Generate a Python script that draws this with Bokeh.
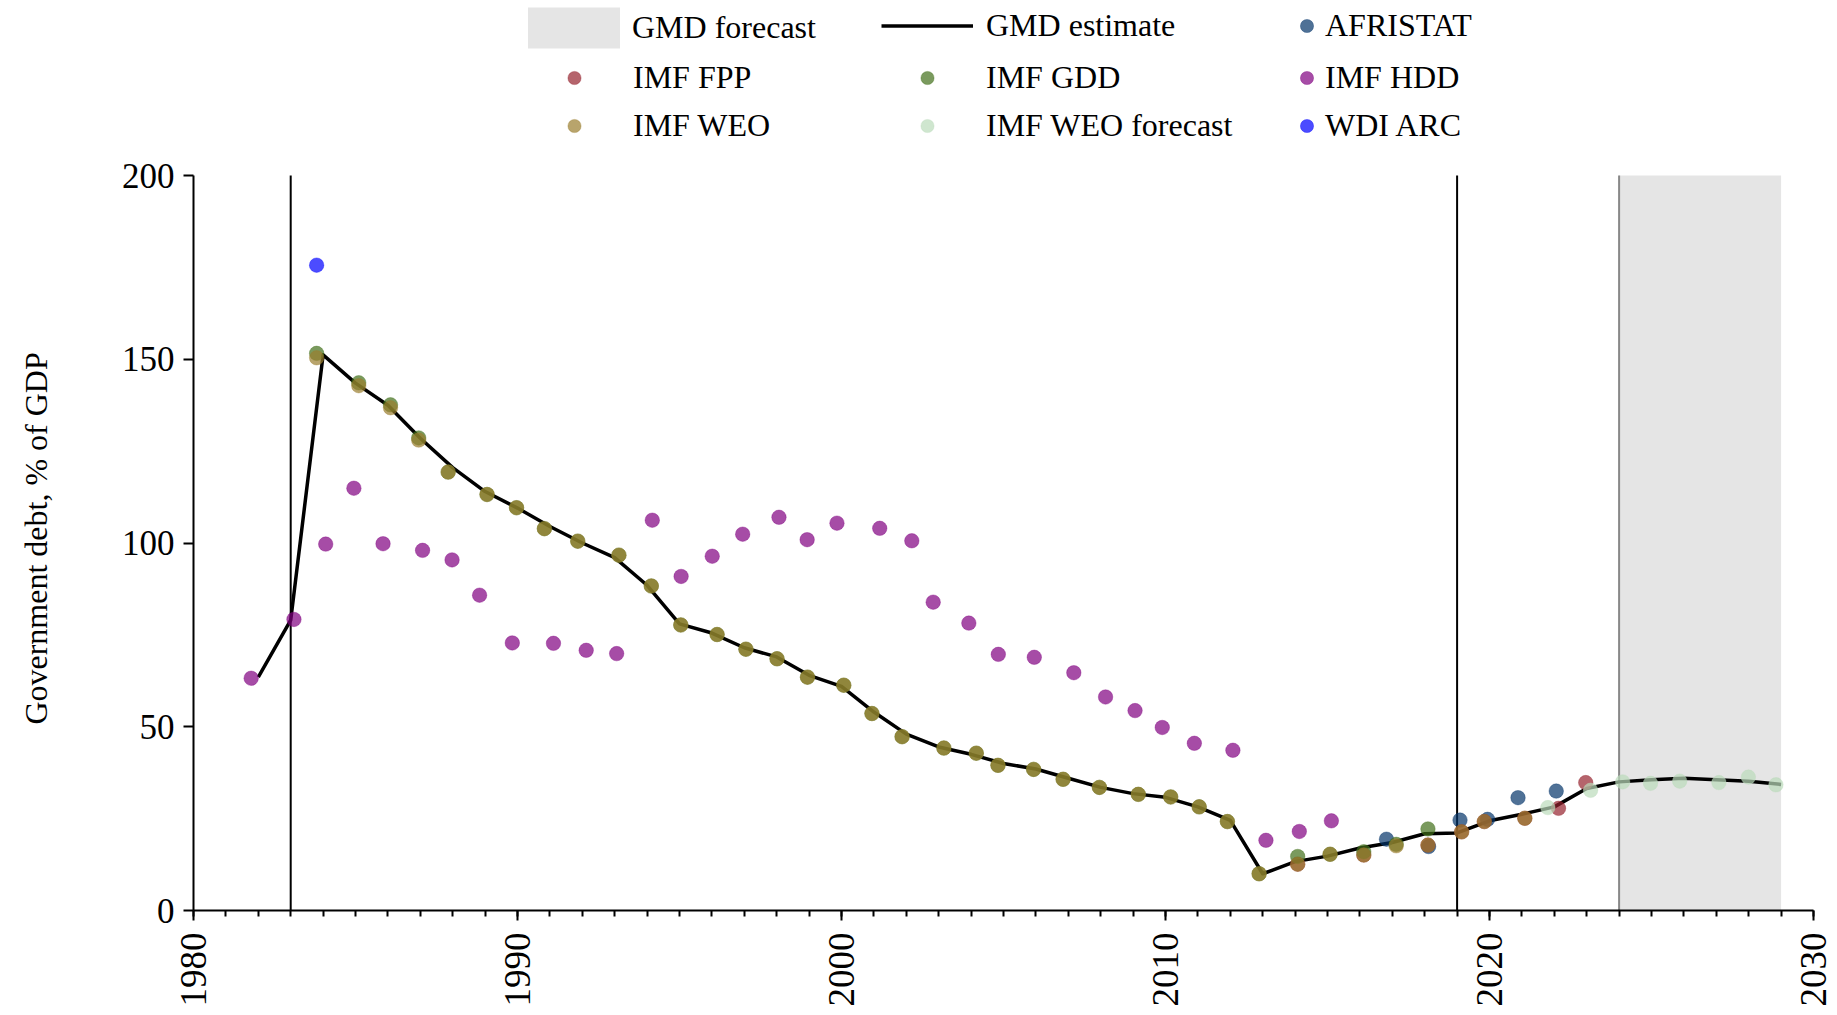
import math
from bokeh.plotting import figure
from bokeh.layouts import row
from bokeh.models import (Range1d, FixedTicker, Legend, LegendItem, ColumnDataSource, Label)
from bokeh.embed import file_html
from bokeh.resources import INLINE

# ---------------- data ----------------
GMD_YEARS = list(range(1982, 2030))
GMD_EST = [63.5, 79, 151.2, 143.5, 137.5, 128.5, 120.5, 114, 109.5, 104.5, 100, 96,
           88.5, 78, 75.5, 71.5, 69, 64, 61, 54, 48, 44.5, 42.5, 40, 38.5, 36, 33.5,
           31.8, 30.8, 28.2, 24.5, 10, 13.3, 14.8, 17, 18.5, 20.9, 21.1, 24.4, 26.2,
           28.2, 33.2, 35, 35.6, 36, 35.6, 35.2, 34.3]

FORECAST_START = 2024
FORECAST_END = 2029
EVENT_YEARS = [1983, 2019]

AFRISTAT_X = [2016.82, 2018.12, 2019.09, 2019.94, 2020.88, 2022.06]
AFRISTAT_Y = [19.4, 17.4, 24.6, 24.8, 30.7, 32.5]

FPP_X = [2014.08, 2016.12, 2018.10, 2019.14, 2019.84, 2021.09, 2022.13, 2022.97]
FPP_Y = [12.6, 15.1, 17.8, 21.4, 24.2, 25.1, 27.8, 34.8]

GDD_X = [1983.80, 1985.10, 1986.08, 1986.95, 1987.86, 1989.06, 1989.97, 1990.83,
         1991.86, 1993.13, 1994.13, 1995.04, 1996.16, 1997.05, 1998.01, 1998.95,
         2000.07, 2000.94, 2001.87, 2003.16, 2004.16, 2004.83, 2005.93, 2006.84,
         2007.96, 2009.16, 2010.16, 2011.04, 2011.91, 2012.89, 2014.08, 2015.08,
         2016.12, 2017.12, 2018.10]
GDD_Y = [151.6, 143.6, 137.6, 128.6, 119.3, 113.2, 109.6, 103.9, 100.5, 96.7, 88.3,
         77.7, 75.1, 71.1, 68.5, 63.5, 61.3, 53.6, 47.3, 44.2, 42.8, 39.5, 38.4, 35.7,
         33.5, 31.6, 30.9, 28.2, 24.2, 10.0, 14.7, 15.3, 16.0, 18.0, 22.2]

HDD_X = [1981.78, 1983.10, 1984.08, 1984.95, 1985.85, 1987.07, 1987.98, 1988.83,
         1989.84, 1991.11, 1992.12, 1993.06, 1994.16, 1995.05, 1996.01, 1996.95,
         1998.07, 1998.94, 1999.86, 2001.18, 2002.17, 2002.83, 2003.93, 2004.84,
         2005.95, 2007.17, 2008.15, 2009.06, 2009.90, 2010.89, 2012.08, 2013.10,
         2014.13, 2015.12]
HDD_Y = [63.2, 79.2, 99.7, 114.9, 99.8, 98.0, 95.4, 85.8, 72.8, 72.7, 70.8, 69.9,
         106.2, 90.9, 96.4, 102.4, 107.0, 100.9, 105.4, 104.0, 100.6, 83.9, 78.2,
         69.7, 68.9, 64.7, 58.1, 54.4, 49.8, 45.5, 43.6, 19.1, 21.5, 24.4]

WEO_X = [1983.80, 1985.10, 1986.08, 1986.95, 1987.86, 1989.06, 1989.97, 1990.83,
         1991.86, 1993.13, 1994.13, 1995.04, 1996.16, 1997.05, 1998.01, 1998.95,
         2000.07, 2000.94, 2001.87, 2003.16, 2004.16, 2004.83, 2005.93, 2006.84,
         2007.96, 2009.16, 2010.16, 2011.04, 2011.91, 2012.89, 2014.08, 2015.08,
         2016.12, 2017.12, 2018.10, 2019.14, 2019.84, 2021.09]
WEO_Y = [150.4, 142.8, 136.8, 128.0, 119.3, 113.2, 109.6, 103.9, 100.5, 96.7, 88.3,
         77.7, 75.1, 71.1, 68.5, 63.5, 61.3, 53.6, 47.3, 44.2, 42.8, 39.5, 38.4, 35.7,
         33.5, 31.6, 30.9, 28.2, 24.2, 10.0, 12.6, 15.3, 15.1, 17.6, 17.8, 21.4, 24.2,
         25.1]

WEOF_X = [2021.80, 2023.12, 2024.11, 2024.97, 2025.87, 2027.08, 2027.99, 2028.84]
WEOF_Y = [28.0, 32.7, 35.0, 34.6, 35.2, 34.8, 36.3, 34.2]

WDI_X = [1983.80]
WDI_Y = [175.6]

X_TICKS = [1980, 1990, 2000, 2010, 2020, 2030]
Y_TICKS = [0, 50, 100, 150, 200]
Y_LABEL = "Government debt, % of GDP"

SERIES = [
    ("AFRISTAT", AFRISTAT_X, AFRISTAT_Y, "#04346a"),
    ("IMF FPP", FPP_X, FPP_Y, "#95222d"),
    ("IMF GDD", GDD_X, GDD_Y, "#416f19"),
    ("IMF HDD", HDD_X, HDD_Y, "#800080"),
    ("IMF WEO", WEO_X, WEO_Y, "#9a7d2d"),
    ("IMF WEO forecast", WEOF_X, WEOF_Y, "#badbba"),
    ("WDI ARC", WDI_X, WDI_Y, "#0000ff"),
]

FONT = "Liberation Serif"

# ---------------- layout ----------------
W, H = 1837, 1015
LABEL_W = 60                # narrow strip on the left that carries the y-axis title
FRAME_LEFT = 193            # page x of the y axis
FRAME_W = 1620
FRAME_BOTTOM = 910          # page y of the x axis
AXIS_PX = 735               # pixels spanned by 0..200
frame_h = FRAME_BOTTOM      # frame starts at canvas top (legend lives inside the frame)
y_top = Y_TICKS[-1] * frame_h / AXIS_PX
LABEL_CY = 600              # page y of the y-axis title centre

# left strip with the y-axis title (its own pixel coordinate system, y up)
lab = figure(width=LABEL_W, height=H, output_backend="svg", toolbar_location=None,
             x_axis_type=None, y_axis_type=None, min_border=0, title=None,
             x_range=Range1d(0, LABEL_W), y_range=Range1d(0, H))
lab.outline_line_color = None
lab.grid.visible = False
lab.add_layout(Label(x=35, y=H - LABEL_CY,
                     text=Y_LABEL, angle=math.pi / 2, text_align="center", text_baseline="middle",
                     text_font=FONT, text_font_size="32px", text_color="black"))

pw = W - LABEL_W
p = figure(width=pw, height=H, output_backend="svg", toolbar_location=None,
           x_range=Range1d(X_TICKS[0], X_TICKS[-1]), y_range=Range1d(Y_TICKS[0], y_top),
           min_border_left=FRAME_LEFT - LABEL_W, min_border_right=W - FRAME_LEFT - FRAME_W,
           min_border_top=0, min_border_bottom=H - FRAME_BOTTOM)
p.outline_line_color = None
p.xgrid.visible = False
p.ygrid.visible = False
p.background_fill_color = "white"
p.border_fill_color = "white"

# forecast shading
shade = p.quad(left=[FORECAST_START], right=[FORECAST_END], bottom=[Y_TICKS[0]], top=[Y_TICKS[-1]],
               fill_color="#e5e5e5", line_color=None)
p.segment(x0=[FORECAST_START], x1=[FORECAST_START], y0=[Y_TICKS[0]], y1=[Y_TICKS[-1]],
          line_color="#888888", line_width=2)

# event lines
p.segment(x0=EVENT_YEARS, x1=EVENT_YEARS, y0=[Y_TICKS[0]] * len(EVENT_YEARS),
          y1=[Y_TICKS[-1]] * len(EVENT_YEARS), line_color="black", line_width=2)

gmd = p.line(GMD_YEARS, GMD_EST, line_color="black", line_width=3.5, line_join="round")

rends = {}
for name, xs, ys, col in SERIES:
    src = ColumnDataSource(dict(x=xs, y=ys))
    rends[name] = p.scatter("x", "y", source=src, size=14.5, fill_color=col, line_color=col,
                            fill_alpha=0.7, line_alpha=0.7, line_width=0.5)

# axes
xa = p.xaxis[0]
xa.ticker = FixedTicker(ticks=X_TICKS, minor_ticks=list(range(X_TICKS[0], X_TICKS[-1] + 1)))
xa.major_label_orientation = math.pi / 2
ya = p.yaxis[0]
ya.ticker = FixedTicker(ticks=Y_TICKS, minor_ticks=[])
ya.bounds = (Y_TICKS[0], Y_TICKS[-1])
for ax in (xa, ya):
    ax.axis_line_width = 2
    ax.axis_line_color = "black"
    ax.major_tick_line_width = 2
    ax.minor_tick_line_width = 2
    ax.major_tick_out = 10
    ax.major_tick_in = 0
    ax.minor_tick_out = 6
    ax.minor_tick_in = 0
    ax.major_label_text_font = FONT
    ax.major_label_text_color = "black"
xa.major_label_text_font_size = "37px"
xa.major_label_standoff = 12
ya.major_label_text_font_size = "35px"
ya.major_label_standoff = 9

# ---------------- legends (positioned individually inside the frame) ----------------
# label, renderer, glyph left (page px), glyph width, glyph height, standoff, row centre (page px)
ROWS = [27, 79, 127]
LEG_ITEMS = [
    ("GMD forecast", shade, 516, 115, 51, 1, ROWS[0]),
    ("GMD estimate", gmd, 881, 92, 33, 13, ROWS[0]),
    ("AFRISTAT", rends["AFRISTAT"], 1290, 33, 33, 2, ROWS[0]),
    ("IMF FPP", rends["IMF FPP"], 528, 92, 33, 13, ROWS[1]),
    ("IMF GDD", rends["IMF GDD"], 881, 92, 33, 13, ROWS[1]),
    ("IMF HDD", rends["IMF HDD"], 1290, 33, 33, 2, ROWS[1]),
    ("IMF WEO", rends["IMF WEO"], 528, 92, 33, 13, ROWS[2]),
    ("IMF WEO forecast", rends["IMF WEO forecast"], 881, 92, 33, 13, ROWS[2]),
    ("WDI ARC", rends["WDI ARC"], 1290, 33, 33, 2, ROWS[2]),
]
for label, r, gl, gw, gh, so, rc in LEG_ITEMS:
    vx = gl - FRAME_LEFT
    vy = FRAME_BOTTOM - (rc + gh / 2)
    leg = Legend(items=[LegendItem(label=label, renderers=[r])], location=(vx, vy),
                 glyph_width=gw, glyph_height=gh, label_standoff=so, padding=0, margin=0,
                 border_line_color=None, background_fill_alpha=0,
                 label_text_font=FONT, label_text_font_size="32px", label_text_color="black")
    p.add_layout(leg, "center")

layout = row(lab, p)
open("out.html", "w").write(file_html(layout, INLINE))
